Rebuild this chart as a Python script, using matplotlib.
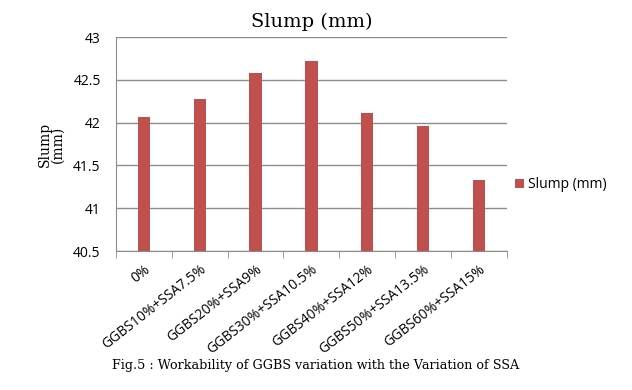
import matplotlib
matplotlib.use("Agg")
import matplotlib.pyplot as plt
import numpy as np

categories = ["0%", "GGBS10%+SSA7.5%", "GGBS20%+SSA9%", "GGBS30%+SSA10.5%",
              "GGBS40%+SSA12%", "GGBS50%+SSA13.5%", "GGBS60%+SSA15%"]
slump = [42.07, 42.28, 42.58, 42.72, 42.11, 41.96, 41.33]
yticks = [40.5, 41, 41.5, 42, 42.5, 43]

fig = plt.figure(figsize=(6.32, 3.9), dpi=100)
ax = fig.add_axes([0.1835, 0.3564, 0.6185, 0.5486])
x = np.arange(len(categories))
ax.bar(x, slump, width=0.22, color="#C0504D", label="Slump (mm)", zorder=3)
ax.set_xlim(-0.5, len(categories) - 0.5)
ax.set_ylim(40.5, 43)
ax.set_yticks(yticks)
ax.set_yticklabels([f"{v:g}" for v in yticks], fontsize=10, family="Open Sans")
ax.yaxis.grid(True, color="#8c8c8c", linewidth=1, zorder=0)
ax.tick_params(axis="y", length=0, pad=11)
ax.set_xticks(x)
ax.set_xticklabels(categories, rotation=38, ha="right", rotation_mode="anchor",
                   fontsize=10, family="Open Sans")
ax.tick_params(axis="x", which="major", length=0, pad=8)
ax.set_xticks(np.arange(-0.5, len(categories), 1), minor=True)
ax.tick_params(axis="x", which="minor", length=5, color="#8c8c8c", direction="out")
for s in ["top", "right"]:
    ax.spines[s].set_visible(False)
for s in ["left", "bottom"]:
    ax.spines[s].set_color("#8c8c8c")
ax.set_title("Slump (mm)", fontsize=14, family="DejaVu Serif", pad=7)
ax.set_ylabel("Slump\n(mm)", fontsize=10, family="DejaVu Serif", labelpad=6, linespacing=0.9)
leg = ax.legend(loc="center left", bbox_to_anchor=(0.99, 0.31), frameon=False,
                prop={"family": "Open Sans", "size": 10}, handlelength=0.6,
                handleheight=0.6, handletextpad=0.3)
fig.text(0.5, 0.064, "Fig.5 : Workability of GGBS variation with the Variation of SSA",
         ha="center", va="center", fontsize=9.2, family="DejaVu Serif")
fig.savefig("out.png", dpi=100)
